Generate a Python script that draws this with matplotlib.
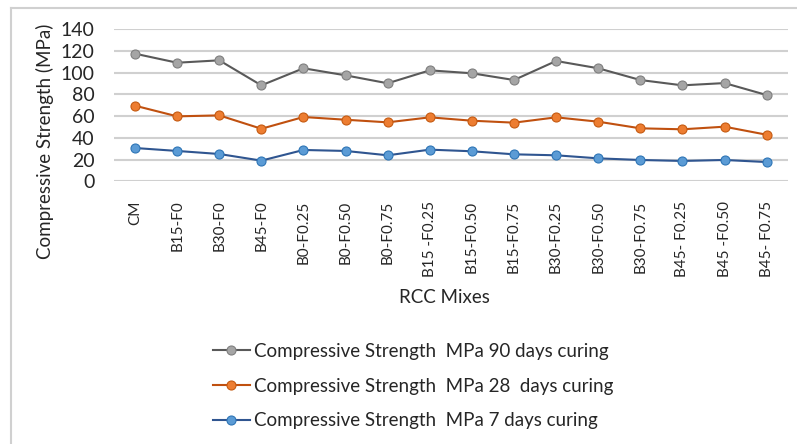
import numpy as np
import matplotlib
matplotlib.use("Agg")
import matplotlib.pyplot as plt
from matplotlib.lines import Line2D

plt.rcParams['font.family'] = ['Lato', 'DejaVu Sans']

# data
mixes = ['CM', 'B15-F0', 'B30-F0', 'B45-F0', 'B0-F0.25', 'B0-F0.50', 'B0-F0.75',
         'B15 -F0.25', 'B15-F0.50', 'B15-F0.75', 'B30-F0.25', 'B30-F0.50',
         'B30-F0.75', 'B45- F0.25', 'B45 -F0.50', 'B45- F0.75']
cs_90 = [117.3, 109, 111.2, 88.2, 103.9, 97.4, 90.1, 102, 99.3, 93.1, 110.6, 103.9, 93.1, 88.2, 90.3, 79.3]
cs_28 = [69.5, 59.7, 60.6, 48.3, 59.1, 56.6, 54.2, 58.8, 55.7, 53.9, 58.8, 54.8, 48.7, 47.8, 50.2, 42.8]
cs_7 = [30.6, 27.9, 25.1, 19.0, 28.8, 27.9, 23.9, 29.1, 27.6, 24.8, 23.9, 21.1, 19.6, 18.7, 19.6, 17.7]

labels = ['Compressive Strength  MPa 90 days curing',
          'Compressive Strength  MPa 28  days curing',
          'Compressive Strength  MPa 7 days curing']

W, H = 797, 444
fig = plt.figure(figsize=(W / 100, H / 100), dpi=100)
ax = fig.add_axes([114 / W, 1 - 181.3 / H, 673.7 / W, 152.3 / H])

x = np.arange(len(mixes))
styles = [
    (cs_90, '#595959', '#a5a5a5', '#7f7f7f'),
    (cs_28, '#c0500f', '#ed7d31', '#c55a11'),
    (cs_7, '#2f5590', '#5b9bd5', '#2e75b6'),
]
handles = []
for (vals, lc, mfc, mec), lab in zip(styles, labels):
    h, = ax.plot(x, vals, '-', color=lc, lw=1.5, marker='o', ms=6.5,
                 mfc=mfc, mec=mec, mew=0.8, label=lab)
    handles.append(h)

ax.set_xlim(-0.5, len(mixes) - 0.5)
ax.set_ylim(0, 140)
ax.set_yticks(np.arange(0, 141, 20))
ax.set_xticks(x)
ax.set_xticklabels(mixes, rotation=90, fontsize=11, color='#262626')
ax.tick_params(axis='y', labelsize=14, colors='#262626', length=0, pad=14)
ax.tick_params(axis='x', length=0, pad=14)
ax.grid(axis='y', color='#d0d0d0', lw=1.5)
ax.set_axisbelow(True)
for s in ax.spines.values():
    s.set_visible(False)

fig.text(45 / W, 1 - 141.5 / H, 'Compressive Strength (MPa)', rotation=90,
         ha='center', va='center', fontsize=13.5, color='#262626')
fig.text(444 / W, 1 - 297 / H, 'RCC Mixes', ha='center', va='center',
         fontsize=13.5, color='#262626')

fig.legend(handles=handles, loc='center', bbox_to_anchor=(413 / W, 1 - 386 / H),
           frameon=False, fontsize=13.5, handlelength=2.0, handletextpad=0.2,
           labelspacing=0.95, labelcolor='#262626')

# light outer border (top and left visible in the crop)
fig.add_artist(Line2D([11 / W, 1.0], [1 - 8 / H, 1 - 8 / H], transform=fig.transFigure,
                      color='#d0d0d0', lw=1.5))
fig.add_artist(Line2D([11 / W, 11 / W], [0, 1 - 8 / H], transform=fig.transFigure,
                      color='#d0d0d0', lw=1.5))

fig.savefig('out.png', dpi=100, facecolor='white')
